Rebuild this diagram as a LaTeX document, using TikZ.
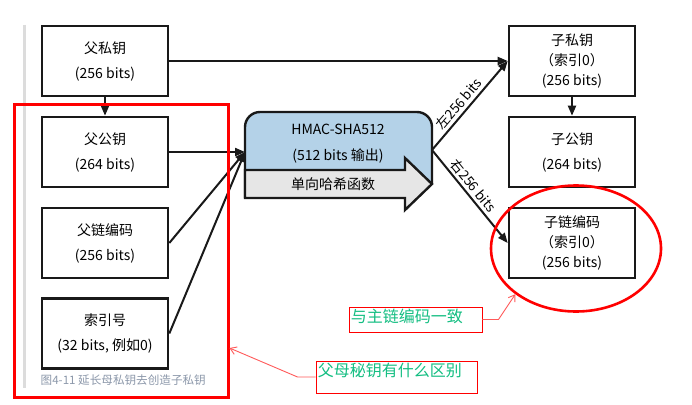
\documentclass[tikz,border=0pt]{standalone}
\usepackage{fontspec}
\setmainfont{Noto Sans CJK SC}
\usetikzlibrary{arrows.meta,shapes.geometric}
\definecolor{boxline}{RGB}{25,25,25}
\definecolor{hmacblue}{RGB}{180,210,232}
\definecolor{arrowgray}{RGB}{230,230,230}
\definecolor{barcolor}{RGB}{220,220,220}
\definecolor{captioncol}{RGB}{140,152,170}
\definecolor{notegreen}{RGB}{20,190,130}
\definecolor{noteline}{RGB}{255,90,90}
\begin{document}
\begin{tikzpicture}[x=1pt,y=-1pt,
  keybox/.style={draw=boxline, line width=2.6pt, minimum width=126pt, minimum height=70pt,
    align=center, inner sep=0pt, font=\fontsize{14}{25}\selectfont},
  keybox3/.style={keybox, font=\fontsize{14}{20}\selectfont},
  conn/.style={draw=boxline, line width=2pt, -{Triangle[length=10pt,width=8pt]}},
  bitlabel/.style={sloped, above, inner sep=2.5pt, font=\fontsize{13.5}{16}\selectfont},
  notebox/.style={draw=red, line width=0.9pt, inner sep=0pt},
  notetext/.style={text=notegreen, font=\fontsize{16}{18}\selectfont, inner sep=2pt},
  notearrow/.style={draw=noteline, line width=0.9pt, -{Straight Barb[length=6pt,width=8pt]}}
]
\path[fill=white, use as bounding box] (0,0) rectangle (692,404);

% gray side bar
\draw[barcolor, line width=3.5pt] (24.5,25) -- (24.5,388);

% left boxes
\node[keybox] (psk) at (105,61) {父私钥\\(256 bits)};
\node[keybox] (ppk) at (105,152) {父公钥\\(264 bits)};
\node[keybox] (pcc) at (105,243) {父链编码\\(256 bits)};
\node[keybox] (idx) at (105,333.5) {索引号\\(32 bits, 例如0)};

% caption
\node[anchor=west, text=captioncol, inner sep=0pt, font=\fontsize{11.6}{13}\selectfont] (cap) at (40.5,380) {图4-11 延长母私钥去创造子私钥};

% right boxes
\node[keybox3] (csk) at (572,61) {子私钥\\（索引0）\\(256 bits)};
\node[keybox] (cpk) at (572,152) {子公钥\\(264 bits)};
\node[keybox3] (ccc) at (572,243) {子链编码\\（索引0）\\(256 bits)};

% HMAC block
\path[draw=boxline, line width=2.4pt, fill=hmacblue, rounded corners=15pt]
  (245,198) -- (245,112) -- (432,112) -- (432,184);
\path[draw=boxline, line width=2.4pt, fill=arrowgray, line join=miter]
  (245,170) -- (405,170) -- (405,158) -- (432,184) -- (405,210) -- (405,198) -- (245,198) -- cycle;
\node[align=center, inner sep=0pt, font=\fontsize{14}{26}\selectfont] (hmac) at (338,144) {HMAC-SHA512\\(512 bits 输出)};
\node[inner sep=0pt, font=\fontsize{14}{16}\selectfont] (hash) at (333,184) {单向哈希函数};
\coordinate (hin) at (245,152);
\coordinate (hout) at (432,150);

% connectors
\draw[conn] (psk) -- (ppk);
\draw[conn] (csk) -- (cpk);
\draw[conn] (psk.east) -- (csk.west);
\draw[conn] (ppk.east) -- (hin);
\draw[conn] (pcc.east) -- (hin);
\draw[conn] (idx.east) -- (hin);
\draw[conn] (hout) -- node[bitlabel, pos=0.45] {左256 bits} (csk.west);
\draw[conn] (hout) -- node[bitlabel, pos=0.45] {右256 bits} (ccc.west);

% red highlight rectangle and ellipse
\node[draw=red, line width=3pt, minimum width=214pt, minimum height=293pt, inner sep=0pt] (redbox) at (121,250.5) {};
\node[draw=red, line width=2.6pt, ellipse, minimum width=170pt, minimum height=126pt, inner sep=0pt] (ell) at (576,248.5) {};

% notes
\node[notebox, minimum width=133pt, minimum height=25pt] (n1) at (415.5,319.5) {};
\node[notetext, anchor=north west] (n1t) at (n1.north west) {与主链编码一致};
\draw[notearrow] (n1.east) -- ++(16,0) -- (ell.217);

\node[notebox, minimum width=161pt, minimum height=32pt] (n2) at (396.5,377) {};
\node[notetext, anchor=north west] (n2t) at (n2.north west) {父母秘钥有什么区别};
\coordinate (rtarget) at (229.5,348);
\draw[notearrow] (n2.west) -- ++(-18,0) -- (rtarget);
\end{tikzpicture}
\end{document}
